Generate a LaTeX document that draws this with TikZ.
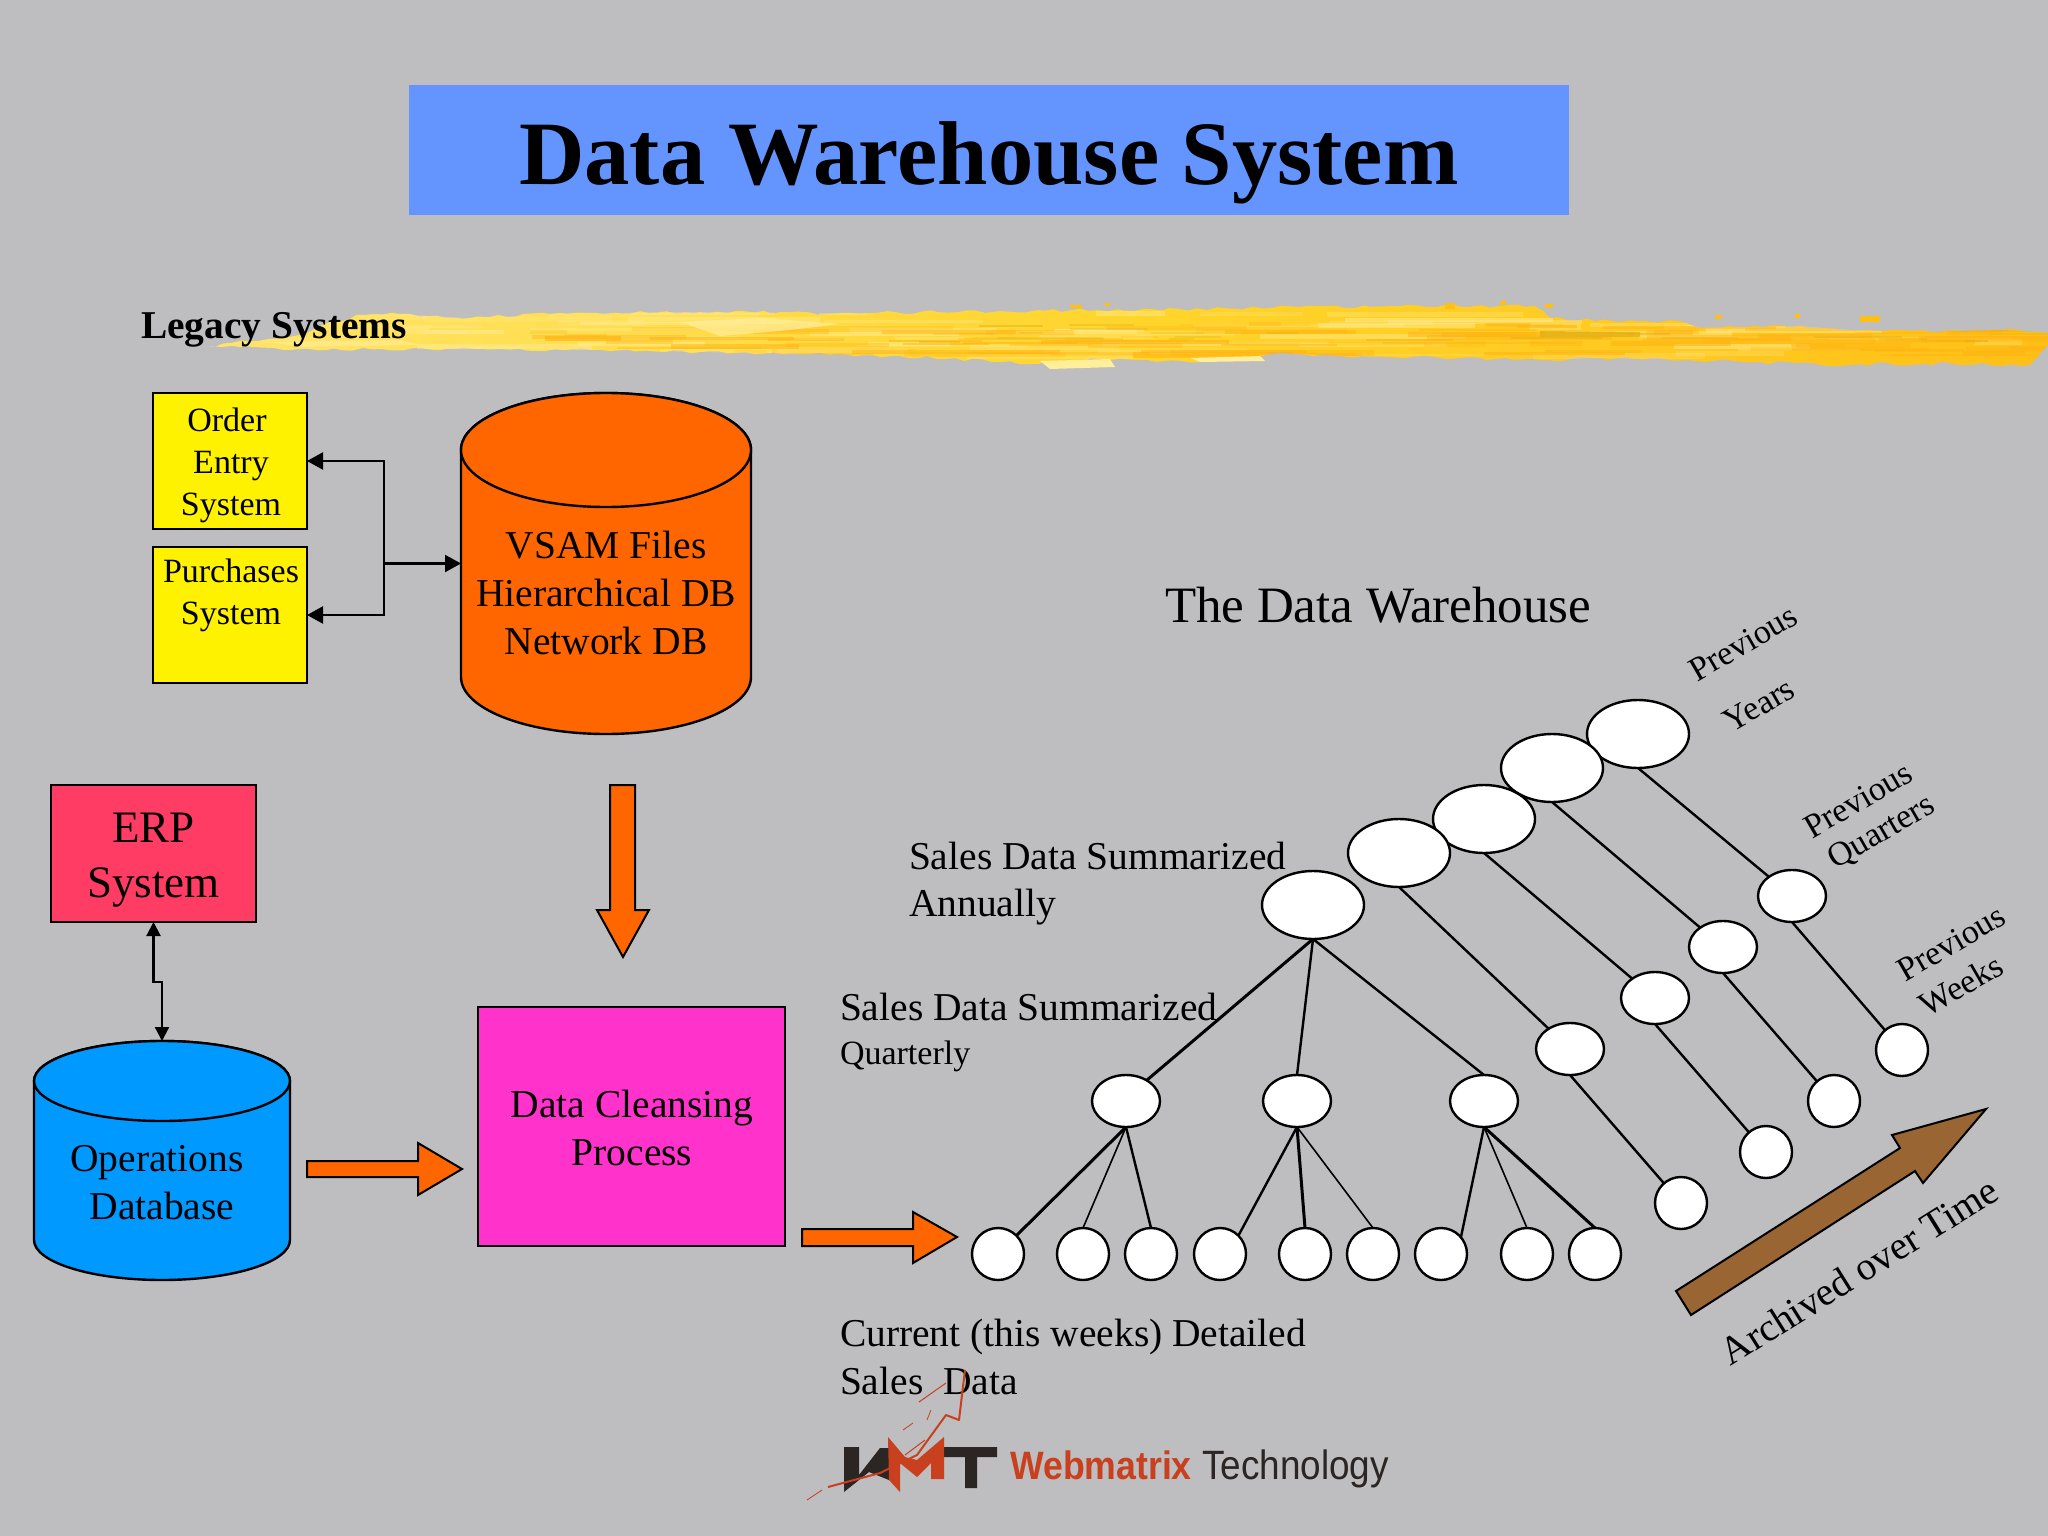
\documentclass[tikz,border=0pt]{standalone}
\usepackage{fontspec}
\setmainfont{Liberation Serif}
\newfontfamily\logosans[FakeStretch=0.9]{Liberation Sans}
\usetikzlibrary{arrows.meta,shapes.geometric,decorations.pathmorphing}
\newcommand\fsz[2]{\fontsize{#1}{#2}\selectfont}
\definecolor{bgc}{HTML}{BEBDBF}
\definecolor{titlec}{HTML}{6495FF}
\definecolor{orangec}{HTML}{FF6600}
\definecolor{bluec}{HTML}{0099FF}
\definecolor{erpc}{HTML}{FF3C64}
\definecolor{magc}{HTML}{FF33CC}
\definecolor{brownc}{HTML}{996633}
\definecolor{logored}{HTML}{C8401E}
\definecolor{logodark}{HTML}{2B2523}
\definecolor{brushl}{HTML}{FFE468}
\definecolor{brushm}{HTML}{FFD52C}
\definecolor{brushr}{HTML}{FFC016}
\definecolor{brushd}{HTML}{E0AE14}
\definecolor{brushp}{HTML}{FFEE9A}
\tikzset{
  x=1pt,y=-1pt,
  boxnode/.style={draw=black,line width=2.2pt,inner sep=0pt,outer sep=0pt,align=center},
  yellowbox/.style={boxnode,fill=yellow,minimum width=154pt,minimum height=136pt},
  boxtext/.style={inner sep=0pt,outer sep=0pt,align=center,font=\fsz{34}{42}},
  cyloutline/.style={draw=black,line width=2.4pt,line join=round},
  cylbody/.style={inner sep=0pt,outer sep=0pt},
  plaintext/.style={inner sep=0pt,outer sep=0pt,font=\fsz{39.5}{48}},
  leftlabel/.style={plaintext,anchor=base west},
  rotlabel/.style={inner sep=0pt,outer sep=0pt,font=\fsz{34}{42},rotate=30},
  conn/.style={draw=black,line width=2.2pt},
  tipboth/.style={conn,{Triangle[length=14pt,width=14pt]}-{Triangle[length=14pt,width=14pt]}},
  tipend/.style={conn,-{Triangle[length=16pt,width=17pt]}},
  blockarrow/.style={draw=black,line width=2pt,fill=orangec,line join=miter},
  bigoval/.style={ellipse,draw=black,fill=white,line width=2.4pt,inner sep=0pt,outer sep=0pt,minimum width=102pt,minimum height=68pt},
  midoval/.style={bigoval,minimum width=68pt,minimum height=52pt},
  smalloval/.style={bigoval,minimum width=52pt,minimum height=52pt},
  treeline/.style={draw=black,line width=2.4pt},
  thinline/.style={draw=black,line width=1.6pt},
  thickline/.style={draw=black,line width=3pt},
}
\begin{document}
\begin{tikzpicture}
\useasboundingbox (0,0) rectangle (2048,1536);
\fill[bgc] (0,0) rectangle (2048,1536);

% brush stroke
\pgfmathsetseed{4711}
\def\brushpath{(205,346) -- (290,337) -- (356,315) -- (400,314) -- (470,318) -- (560,313) -- (700,312) -- (850,313) -- (1000,311) -- (1180,309) -- (1300,307) -- (1535,306) -- (1550,318) -- (1620,322) -- (1680,321) -- (1700,328) -- (1800,326) -- (1850,330) -- (1930,332) -- (2000,330) -- (2048,333) -- (2048,345) -- (2030,365) -- (2020,366) -- (1950,363) -- (1850,365) -- (1760,362) -- (1600,358) -- (1540,360) -- (1460,358) -- (1340,356) -- (1280,353) -- (1240,358) -- (1200,362) -- (1100,359) -- (1030,364) -- (1000,362) -- (900,356) -- (800,354) -- (700,352) -- (600,350) -- (500,349) -- (380,349) -- (300,349) -- (240,347) -- cycle}
\shade[left color=brushl,right color=brushr,middle color=brushm,decorate,decoration={random steps,segment length=9pt,amplitude=1.8pt}] \brushpath;
\begin{scope}
\clip \brushpath;
\foreach \i in {1,...,70}{
  \pgfmathsetmacro\sx{rnd*1800+230}
  \pgfmathsetmacro\sy{rnd*46+310}
  \pgfmathsetmacro\sw{rnd*190+40}
  \pgfmathsetmacro\sh{rnd*4+2}
  \pgfmathsetmacro\so{rnd*0.35+0.15}
  \fill[brushp,opacity=\so] (\sx,\sy) rectangle ({\sx+\sw},{\sy+\sh});
}
\foreach \i in {1,...,90}{
  \pgfmathsetmacro\sx{rnd*1500+520}
  \pgfmathsetmacro\sy{rnd*34+322}
  \pgfmathsetmacro\sw{rnd*180+30}
  \pgfmathsetmacro\sh{rnd*4+1.5}
  \pgfmathsetmacro\so{rnd*0.4+0.2}
  \fill[brushr!80!orange,opacity=\so] (\sx,\sy) rectangle ({\sx+\sw},{\sy+\sh});
}
\foreach \i in {1,...,25}{
  \pgfmathsetmacro\sx{rnd*1100+900}
  \pgfmathsetmacro\sy{rnd*20+322}
  \pgfmathsetmacro\sw{rnd*90+20}
  \pgfmathsetmacro\so{rnd*0.3+0.2}
  \fill[brushd,opacity=\so] (\sx,\sy) rectangle ({\sx+\sw},{\sy+2});
}
\fill[brushd,opacity=.7] (1540,331) -- (1640,332) -- (1640,337) -- (1540,337) -- cycle;
\fill[brushp,opacity=.75] (680,322) -- (760,318) -- (840,324) -- (790,330) -- (720,336) -- cycle;
\fill[brushp,opacity=.6] (270,342) -- (400,340) -- (420,345) -- (300,347) -- cycle;
\end{scope}
\fill[brushp] (1040,361) -- (1110,359) -- (1115,367) -- (1050,369) -- cycle;
\fill[brushp] (1190,358) -- (1260,356) -- (1265,361) -- (1200,362) -- cycle;
\fill[brushr] (1070,305) rectangle (1082,308);
\fill[brushr] (1105,303) rectangle (1110,306);
\fill[brushr] (1445,303) rectangle (1455,309);
\fill[brushr] (1500,301) rectangle (1506,305);
\fill[brushr] (1545,304) rectangle (1553,308);
\fill[brushr] (1715,315) rectangle (1722,319);
\fill[brushr] (1795,314) rectangle (1800,318);
\fill[brushr] (1860,316) rectangle (1880,322);

% title
\node[inner sep=0pt,outer sep=0pt,fill=titlec,minimum width=1160pt,minimum height=130pt] (titlebox) at (989,150) {};
\node[inner sep=0pt,anchor=base,font=\bfseries\fsz{90.6}{100}] (title) at (989,184) {Data Warehouse System};
\node[leftlabel,font=\bfseries\fsz{39.4}{48}] (legacy) at (141,338) {Legacy Systems};

% legacy systems
\node[yellowbox] (order) at (230,461) {};
\node[boxtext] (ordertext) at (231,465) {Order\hspace*{8pt}\\Entry\\System};
\node[yellowbox] (purchases) at (230,615) {};
\node[boxtext] (purchtext) at (231,619) {Purchases\\System\\\strut};

\path[cyloutline,fill=orangec] (461,677) arc[start angle=180,end angle=360,x radius=145pt,y radius=57pt] -- (751,450) arc[start angle=0,end angle=180,x radius=145pt,y radius=57pt] -- cycle;
\path[cyloutline,fill=orangec] (606,450) ellipse[x radius=145pt,y radius=57pt];
\node[cylbody,minimum width=290pt,minimum height=341pt] (vsam) at (606,563.5) {};
\node[plaintext,align=center] (vsamtext) at (606,592.5) {VSAM Files\\Hierarchical DB\\Network DB};

\coordinate (bus) at (384,563.5);
\draw[tipend] (bus) |- (order.east);
\draw[tipend] (bus) |- (purchases.east);
\draw[tipend] (bus) -- (vsam.west);

% ERP and operations database
\node[boxnode,fill=erpc,minimum width=205pt,minimum height=137pt] (erp) at (153.5,853.5) {};
\node[inner sep=0pt,align=center,font=\fsz{45}{55}] (erptext) at (153.5,860) {ERP\\System};
\path[cyloutline,fill=bluec] (34,1240) arc[start angle=180,end angle=360,x radius=128pt,y radius=40pt] -- (290,1081) arc[start angle=0,end angle=180,x radius=128pt,y radius=40pt] -- cycle;
\path[cyloutline,fill=bluec] (162,1081) ellipse[x radius=128pt,y radius=40pt];
\node[cylbody,minimum width=256pt,minimum height=239pt] (ops) at (162,1160.5) {};
\node[plaintext,align=center] (opstext) at (162,1183) {Operations\hspace*{10pt}\\Database};
\coordinate (jog) at (157,982);
\draw[tipboth] (erp.south) |- (jog) -| (ops.north);

% cleansing
\node[boxnode,fill=magc,minimum width=307pt,minimum height=239pt] (clean) at (631.5,1126.5) {};
\node[plaintext,align=center] (cleantext) at (632,1128) {Data Cleansing\\Process};

% block arrows
\draw[blockarrow] (610,785) -- (635,785) -- (635,910) -- (649,910) -- (623,957) -- (597,910) -- (610,910) -- cycle;
\draw[blockarrow] (307,1161) -- (418,1161) -- (418,1143) -- (462,1169) -- (418,1195) -- (418,1177) -- (307,1177) -- cycle;
\draw[blockarrow] (802,1229) -- (913,1229) -- (913,1212) -- (957,1237) -- (913,1263) -- (913,1246) -- (802,1246) -- cycle;
\draw[blockarrow,fill=brownc] (1676,1291) -- (1900,1148) -- (1892,1135) -- (1986,1109) -- (1923,1183) -- (1915,1171) -- (1691,1315) -- cycle;

% warehouse tree
\node[bigoval] (e5) at (1638,734) {};
\node[bigoval] (e4) at (1552,768) {};
\node[bigoval] (e3) at (1484,819) {};
\node[bigoval] (e2) at (1399,853) {};
\node[bigoval] (e1) at (1313,905) {};

\node[midoval] (m1) at (1126,1101) {};
\node[midoval] (m2) at (1297,1101) {};
\node[midoval] (m3) at (1484,1101) {};
\node[midoval] (q2) at (1570,1049) {};
\node[midoval] (q3) at (1655,998) {};
\node[midoval] (q4) at (1723,947) {};
\node[midoval] (q5) at (1792,896) {};

\node[smalloval] (a1) at (998,1254) {};
\node[smalloval] (a2) at (1083,1254) {};
\node[smalloval] (a3) at (1151,1254) {};
\node[smalloval] (a4) at (1220,1254) {};
\node[smalloval] (a5) at (1305,1254) {};
\node[smalloval] (a6) at (1373,1254) {};
\node[smalloval] (a7) at (1441,1254) {};
\node[smalloval] (a8) at (1527,1254) {};
\node[smalloval] (a9) at (1595,1254) {};
\node[smalloval] (w2) at (1681,1203) {};
\node[smalloval] (w3) at (1766,1152) {};
\node[smalloval] (w4) at (1834,1101) {};
\node[smalloval] (w5) at (1902,1050) {};

\draw[thickline] (e1.south) -- (m1.45);
\draw[treeline] (e1.south) -- (m2.north);
\draw[treeline] (e1.south) -- (m3.north);
\draw[treeline] (e2.south) -- (q2);
\draw[treeline] (e3.south) -- (q3);
\draw[treeline] (e4.south) -- (q4);
\draw[treeline] (e5.south) -- (q5);
\draw[treeline] (q2.south) -- (w2);
\draw[treeline] (q3.south) -- (w3);
\draw[treeline] (q4.south) -- (w4);
\draw[treeline] (q5.south) -- (w5);
\draw[thickline] (m1.south) -- (a1.45);
\draw[thinline] (m1.south) -- (a2.north);
\draw[treeline] (m1.south) -- (a3.north);
\draw[treeline] (m2.south) -- (a4.45);
\draw[thickline] (m2.south) -- (a5.north);
\draw[thinline] (m2.south) -- (a6.north);
\draw[treeline] (m3.south) -- (a7.40);
\draw[thinline] (m3.south) -- (a8.north);
\draw[thickline] (m3.south) -- (a9.north);

% warehouse labels
\node[leftlabel,font=\fsz{51}{60}] (dwtitle) at (1165,622) {The Data Warehouse};
\node[leftlabel] (s1) at (909,869) {Sales Data Summarized};
\node[leftlabel] (s2) at (909,916) {Annually};
\node[leftlabel] (s3) at (840,1020) {Sales Data Summarized};
\node[leftlabel,font=\fsz{34}{42}] (s4) at (840,1064) {Quarterly};
\node[leftlabel] (s5) at (840,1346) {Current (this weeks) Detailed};
\node[leftlabel] (s6) at (840,1394) {Sales\ \ Data};

\node[rotlabel] (r1) at (1743,643) {Previous};
\node[rotlabel] (r2) at (1759,705) {Years};
\node[rotlabel] (r3) at (1858,800) {Previous};
\node[rotlabel] (r4) at (1882,833) {Quarters};
\node[rotlabel] (r5) at (1951,943) {Previous};
\node[rotlabel] (r6) at (1961,985) {Weeks};
\node[plaintext,rotate=32] (r7) at (1859,1271) {Archived over Time};

% logo
\fill[logodark] (844,1447) -- (859,1447) -- (859,1475) -- (880,1448) -- (889,1448) -- (889,1480) -- (869,1472) -- (844,1492) -- cycle;
\fill[logodark] (944,1447) -- (997,1447) -- (997,1457) -- (977,1457) -- (977,1488) -- (965,1488) -- (965,1457) -- (944,1457) -- cycle;
\fill[logored] (888,1437) -- (905,1457) -- (917,1460) -- (944,1437) -- (944,1479) -- (931,1479) -- (931,1463) -- (917,1477) -- (900,1463) -- (900,1492) -- (889,1480) -- cycle;
\draw[logored,line width=2pt,line join=round] (828,1487) -- (880,1473) -- (917,1455) -- (946,1415) -- (959,1420) -- (965,1370);
\draw[logored,line width=1pt] (919,1402) -- (946,1383);
\draw[logored,line width=.8pt] (807,1500) -- (822,1490);
\draw[logored,line width=.8pt] (903,1430) -- (913,1423);
\draw[logored,line width=.8pt] (927,1420) -- (931,1410);
\draw[logored,line width=1pt] (905,1455) -- (925,1440);
\node[inner sep=0pt,anchor=base west,font=\logosans\bfseries\fsz{39.6}{44},text=logored] (lg1) at (1010,1479) {Webmatrix};
\node[inner sep=0pt,anchor=base west,font=\logosans\fsz{41}{44},text=logodark] (lg2) at (1202,1479) {Technology};
\end{tikzpicture}
\end{document}
